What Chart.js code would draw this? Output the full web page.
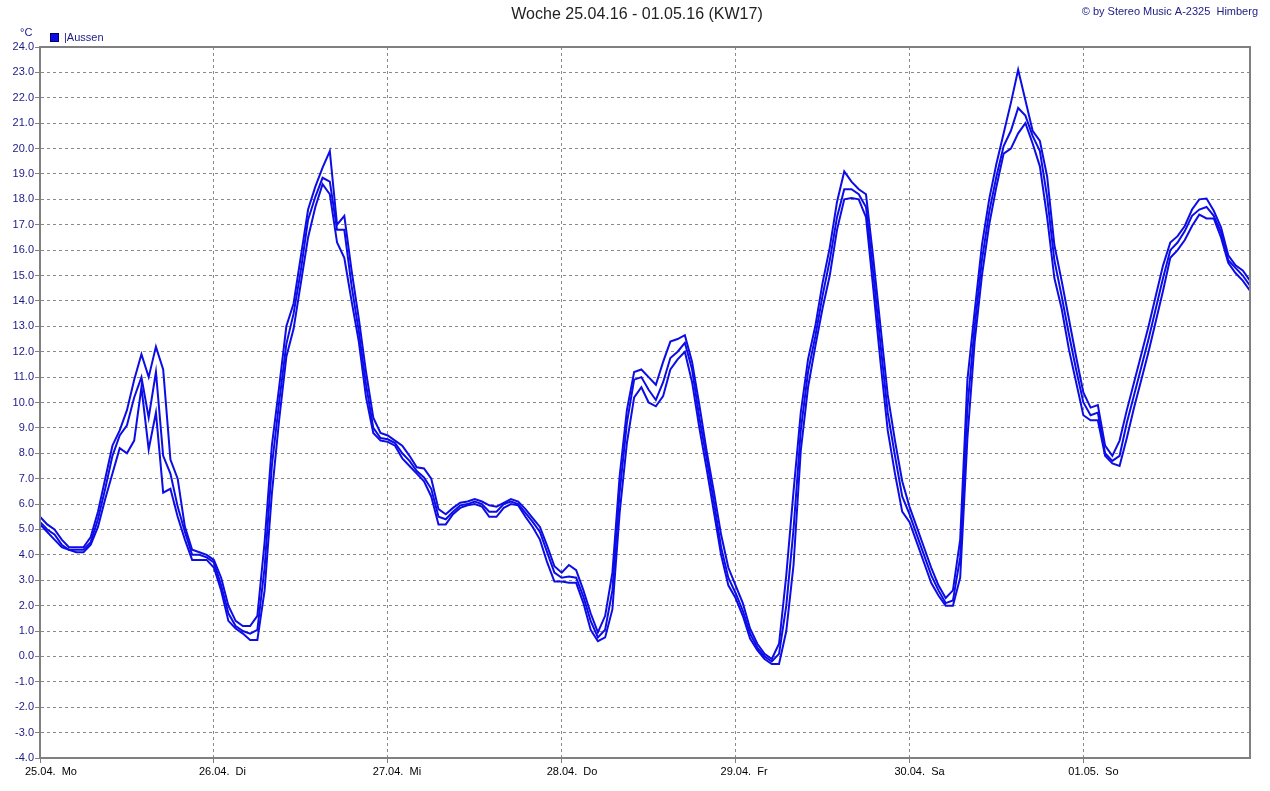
<!DOCTYPE html>
<html lang="de">
<head>
<meta charset="utf-8">
<title>Woche 25.04.16 - 01.05.16 (KW17)</title>
<script src="https://cdn.jsdelivr.net/npm/chart.js@4/dist/chart.umd.min.js"></script>
<style>
  html, body { margin: 0; padding: 0; background: #fff; }
</style>
</head>
<body>
<canvas id="tempChart" width="1270" height="791"></canvas>
<script>
// Stundenwerte 25.04. 00:00 bis 01.05. 23:00
const hours = Array.from({ length: 168 }, (_, i) => i);
const dayTicks = [0, 24, 48, 72, 96, 120, 144];
const dayLabels = ['25.04.  Mo', '26.04.  Di', '27.04.  Mi', '28.04.  Do', '29.04.  Fr', '30.04.  Sa', '01.05.  So'];
const yTicks = [-4, 24];

const aussenMax = [
  5.5, 5.2, 5.0, 4.6, 4.3, 4.3, 4.3, 4.7, 5.7, 7.0, 8.3, 8.9, 9.7, 10.9, 11.9, 11.0, 12.2, 11.3, 7.75, 7.0, 5.1, 4.2, 4.1, 4.0,
  3.8, 3.1, 2.0, 1.4, 1.2, 1.2, 1.6, 4.5, 8.3, 10.6, 13.0, 13.9, 15.75, 17.6, 18.5, 19.25, 19.9, 17.0, 17.35, 15.2, 13.3, 11.2, 9.4, 8.8,
  8.7, 8.5, 8.3, 7.9, 7.45, 7.4, 7.0, 5.8, 5.6, 5.85, 6.05, 6.1, 6.2, 6.1, 5.95, 5.9, 6.05, 6.2, 6.1, 5.8, 5.45, 5.1, 4.35, 3.55,
  3.3, 3.6, 3.4, 2.6, 1.7, 0.95, 1.6, 3.3, 7.1, 9.7, 11.2, 11.3, 11.0, 10.7, 11.6, 12.4, 12.5, 12.65, 11.6, 9.9, 8.1, 6.5, 4.8, 3.5,
  2.8, 2.1, 1.1, 0.5, 0.1, -0.1, 0.5, 3.2, 6.5, 9.6, 11.7, 13.0, 14.7, 16.1, 17.9, 19.1, 18.7, 18.4, 18.2, 15.7, 13.0, 10.3, 8.5, 6.9,
  5.9, 5.1, 4.3, 3.5, 2.8, 2.3, 2.6, 4.6, 10.9, 13.6, 16.2, 18.0, 19.4, 20.6, 21.8, 23.1, 21.9, 20.7, 20.3, 18.9, 16.2, 14.8, 13.3, 11.8,
  10.4, 9.8, 9.9, 8.3, 7.9, 8.5, 9.7, 10.8, 11.9, 13.0, 14.2, 15.4, 16.3, 16.55, 16.95, 17.6, 18.0, 18.03, 17.55, 16.9, 15.8, 15.4, 15.2, 14.8
];
const aussenMittel = [
  5.3, 5.0, 4.8, 4.4, 4.2, 4.2, 4.2, 4.5, 5.4, 6.6, 7.9, 8.7, 9.1, 10.2, 11.0, 9.4, 11.2, 7.9, 7.2, 5.9, 4.9, 4.0, 4.0, 3.9,
  3.7, 2.8, 1.7, 1.2, 1.0, 0.9, 1.05, 3.5, 7.5, 10.0, 12.3, 13.5, 15.2, 17.2, 18.1, 18.85, 18.7, 16.8, 16.8, 14.6, 12.8, 10.7, 9.0, 8.6,
  8.55, 8.4, 8.0, 7.7, 7.3, 7.05, 6.6, 5.5, 5.4, 5.7, 5.95, 6.0, 6.1, 6.0, 5.7, 5.7, 6.0, 6.1, 6.0, 5.65, 5.3, 4.9, 4.1, 3.3,
  3.1, 3.15, 3.1, 2.35, 1.4, 0.75, 1.05, 2.6, 6.45, 9.2, 10.9, 11.0, 10.5, 10.1, 10.8, 11.75, 12.0, 12.35, 11.3, 9.4, 7.8, 6.1, 4.3, 3.1,
  2.5, 1.8, 0.9, 0.35, 0.0, -0.2, 0.1, 2.0, 5.0, 8.9, 11.2, 12.6, 14.2, 15.6, 17.3, 18.4, 18.4, 18.2, 17.7, 15.1, 12.3, 9.6, 7.9, 6.3,
  5.6, 4.8, 4.0, 3.2, 2.6, 2.1, 2.2, 3.9, 9.8, 13.0, 15.6, 17.5, 18.9, 20.1, 20.7, 21.6, 21.3, 20.5, 19.9, 18.1, 15.6, 14.2, 12.7, 11.3,
  10.0, 9.5, 9.6, 8.0, 7.7, 7.9, 9.2, 10.3, 11.4, 12.5, 13.7, 14.9, 16.0, 16.3, 16.75, 17.35, 17.6, 17.7, 17.35, 16.7, 15.6, 15.3, 15.0, 14.6
];
const aussenMin = [
  5.2, 4.9, 4.6, 4.3, 4.2, 4.1, 4.1, 4.4, 5.1, 6.2, 7.2, 8.2, 8.0, 8.5, 10.6, 8.15, 9.6, 6.45, 6.6, 5.5, 4.6, 3.8, 3.8, 3.8,
  3.5, 2.6, 1.4, 1.1, 0.9, 0.65, 0.65, 2.6, 6.4, 9.3, 11.8, 12.9, 14.7, 16.5, 17.7, 18.6, 18.2, 16.3, 15.7, 14.0, 12.4, 10.2, 8.8, 8.5,
  8.45, 8.3, 7.8, 7.5, 7.2, 6.9, 6.3, 5.2, 5.2, 5.6, 5.85, 5.95, 6.0, 5.9, 5.5, 5.5, 5.85, 6.0, 5.95, 5.5, 5.1, 4.6, 3.7, 2.95,
  2.95, 2.9, 2.9, 2.1, 1.05, 0.6, 0.75, 1.85, 5.65, 8.4, 10.2, 10.6, 10.0, 9.85, 10.25, 11.3, 11.7, 12.0, 10.8, 9.0, 7.4, 5.7, 4.0, 2.8,
  2.3, 1.6, 0.7, 0.25, -0.1, -0.3, -0.3, 1.0, 3.6, 8.1, 10.6, 12.2, 13.7, 15.0, 16.8, 18.0, 18.05, 18.0, 17.3, 14.5, 11.6, 8.9, 7.2, 5.7,
  5.3, 4.5, 3.7, 2.9, 2.4, 2.0, 2.0, 3.1, 8.6, 12.4, 15.0, 17.0, 18.5, 19.8, 20.0, 20.6, 21.0, 20.2, 19.3, 17.3, 14.9, 13.7, 12.1, 10.8,
  9.5, 9.3, 9.3, 7.9, 7.6, 7.5, 8.6, 9.8, 10.9, 12.0, 13.2, 14.4, 15.7, 16.0, 16.4, 16.95, 17.4, 17.25, 17.25, 16.5, 15.5, 15.1, 14.8, 14.4
];

const lineBlue = 'rgb(12, 12, 230)';
const gridGrey = '#8a8a8a';
const navy = '#1a1a86';
const fontFamily = '"Liberation Sans", Arial, sans-serif';

// Titel, Copyright, Legende und Einheit oben
const headerPlugin = {
  id: 'header',
  afterDraw(chart) {
    const c = chart.ctx;
    c.save();
    c.textBaseline = 'middle';
    c.font = '16px ' + fontFamily;
    c.fillStyle = '#222';
    c.textAlign = 'center';
    c.fillText('Woche 25.04.16 - 01.05.16 (KW17)', 637, 15);

    c.font = '11px ' + fontFamily;
    c.fillStyle = navy;
    c.textAlign = 'right';
    c.fillText('\u00a9 by Stereo Music A-2325  Himberg', 1258, 12);

    c.textAlign = 'left';
    c.fillText('\u00b0C', 20, 33);

    c.fillStyle = lineBlue;
    c.fillRect(50, 33, 9, 9);
    c.strokeStyle = '#000060';
    c.lineWidth = 1;
    c.strokeRect(50.5, 33.5, 8, 8);
    c.fillStyle = navy;
    c.fillText('|Aussen', 64, 38);

    // Rahmen
    const a = chart.chartArea;
    c.strokeStyle = '#808080';
    c.lineWidth = 2;
    c.strokeRect(a.left, a.top, a.right - a.left, a.bottom - a.top);
    c.restore();
  }
};

const lineStyle = {
  borderColor: lineBlue,
  borderWidth: 2,
  pointRadius: 0,
  tension: 0,
  fill: false
};

new Chart(document.getElementById('tempChart'), {
  type: 'line',
  data: {
    labels: hours,
    datasets: [
      { label: 'Aussen max', data: aussenMax, ...lineStyle },
      { label: 'Aussen', data: aussenMittel, ...lineStyle },
      { label: 'Aussen min', data: aussenMin, ...lineStyle }
    ]
  },
  options: {
    responsive: false,
    animation: false,
    layout: { padding: { top: 47, right: 20, left: 0, bottom: 0 } },
    plugins: {
      legend: { display: false },
      title: { display: false },
      tooltip: { enabled: false }
    },
    scales: {
      x: {
        type: 'linear',
        min: 0,
        max: 167,
        afterBuildTicks: s => { s.ticks = dayTicks.map(v => ({ value: v })); },
        afterFit: s => { s.height = 33; },
        ticks: {
          callback: v => dayLabels[dayTicks.indexOf(v)],
          align: 'start',
          labelOffset: -15,
          color: '#000',
          font: { size: 11, family: fontFamily },
          padding: 2,
          maxRotation: 0,
          autoSkip: false
        },
        grid: { color: gridGrey, lineWidth: 1, tickLength: 5, tickColor: '#808080', tickBorderDash: [] },
        border: { display: true, color: '#808080', width: 2, dash: [3, 3] }
      },
      y: {
        min: yTicks[0],
        max: yTicks[1],
        afterFit: s => { s.width = 40; },
        ticks: {
          stepSize: 1,
          callback: v => v.toFixed(1),
          color: navy,
          font: { size: 11, family: fontFamily },
          padding: 1
        },
        grid: { color: gridGrey, lineWidth: 1, tickLength: 5, tickColor: '#808080', tickBorderDash: [] },
        border: { display: true, color: '#808080', width: 2, dash: [3, 3] }
      }
    }
  },
  plugins: [headerPlugin]
});
</script>
</body>
</html>
